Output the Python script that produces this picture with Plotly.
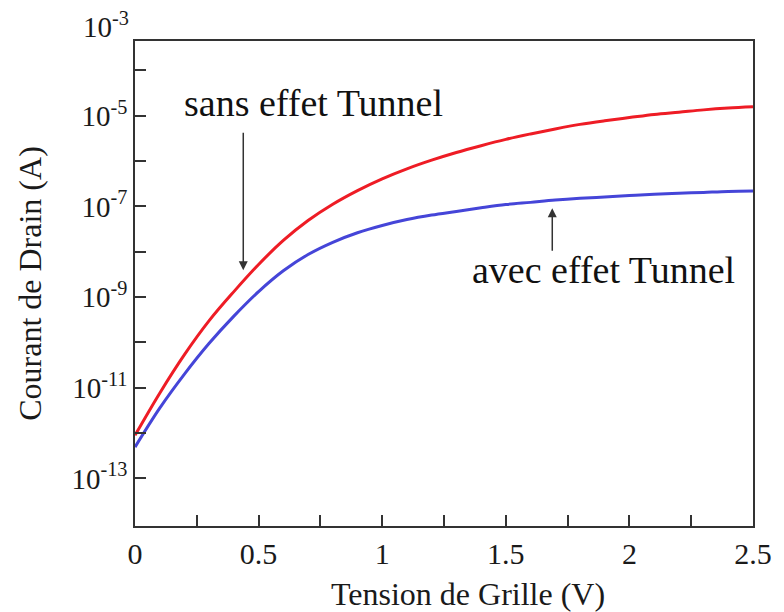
import plotly.graph_objects as go

# Gate voltage (V)
vg = [0.0, 0.1, 0.2, 0.3, 0.4, 0.5, 0.6, 0.7, 0.8, 0.9, 1.0, 1.1, 1.2, 1.3,
      1.4, 1.5, 1.6, 1.7, 1.8, 1.9, 2.0, 2.1, 2.2, 2.3, 2.4, 2.5]

# Drain current without tunnel effect (A)
id_sans = [8.91e-13, 7.59e-12, 5.37e-11, 3.02e-10, 1.32e-9, 5.25e-9, 1.78e-8,
           4.90e-8, 1.12e-7, 2.24e-7, 4.07e-7, 6.76e-7, 1.05e-6, 1.55e-6,
           2.19e-6, 3.02e-6, 3.98e-6, 5.13e-6, 6.46e-6, 7.76e-6, 9.12e-6,
           1.07e-5, 1.20e-5, 1.35e-5, 1.48e-5, 1.58e-5]

# Drain current with tunnel effect (A)
id_avec = [4.90e-13, 3.55e-12, 2.00e-11, 9.55e-11, 3.80e-10, 1.32e-9, 3.80e-9,
           8.71e-9, 1.62e-8, 2.63e-8, 3.80e-8, 5.13e-8, 6.46e-8, 7.76e-8,
           9.33e-8, 1.10e-7, 1.23e-7, 1.38e-7, 1.51e-7, 1.62e-7, 1.74e-7,
           1.86e-7, 1.95e-7, 2.04e-7, 2.14e-7, 2.19e-7]

x_tickvals = [0, 0.25, 0.5, 0.75, 1.0, 1.25, 1.5, 1.75, 2.0, 2.25, 2.5]
x_ticktext = ["0", "", "0.5", "", "1", "", "1.5", "", "2", "", "2.5"]

y_exponents = [-4, -5, -6, -7, -8, -9, -10, -11, -12, -13]
y_tickvals = [10.0 ** e for e in y_exponents]
y_ticktext = [f"10<sup>{e}</sup>" if e % 2 else "" for e in y_exponents]
y_top_label = "10<sup>-3</sup>"

x_title = "Tension de Grille (V)"
y_title = "Courant de Drain (A)"

FONT = "Liberation Serif, Times New Roman, serif"
AX = "#333333"
TXT = "#1a1a1a"
YMIN, YMAX = -14.05, -3.35

fig = go.Figure()
fig.add_trace(go.Scatter(x=vg, y=id_sans, mode="lines", name="sans effet Tunnel",
                         line=dict(color="#ee1c25", width=3, shape="spline", smoothing=1.0)))
fig.add_trace(go.Scatter(x=vg, y=id_avec, mode="lines", name="avec effet Tunnel",
                         line=dict(color="#4545d8", width=3, shape="spline", smoothing=1.0)))

fig.update_layout(
    width=784, height=612,
    margin=dict(l=135, r=27, t=41, b=86),
    paper_bgcolor="white", plot_bgcolor="white",
    showlegend=False,
    font=dict(family=FONT, color=TXT),
    xaxis=dict(
        range=[0, 2.5], tickvals=x_tickvals, ticktext=x_ticktext,
        ticks="inside", ticklen=11, tickwidth=1.5, tickcolor=AX,
        showline=True, linecolor=AX, linewidth=1.5, mirror=True,
        showgrid=False, zeroline=False,
        tickfont=dict(size=30, family=FONT, color=TXT),
    ),
    yaxis=dict(
        type="log", range=[YMIN, YMAX], tickvals=y_tickvals, ticktext=y_ticktext,
        ticks="inside", ticklen=11, tickwidth=1.5, tickcolor=AX,
        showline=True, linecolor=AX, linewidth=1.5, mirror=True,
        showgrid=False, zeroline=False,
        tickfont=dict(size=29, family=FONT, color=TXT),
        title=dict(text=y_title, font=dict(size=32, family=FONT, color=TXT), standoff=20),
    ),
)

# x-axis title (sits right of centre in the reference)
fig.add_annotation(x=0.5386, y=-0.14, xref="paper", yref="paper",
                   xanchor="center", yanchor="middle", text=x_title, showarrow=False,
                   font=dict(size=32, family=FONT, color=TXT))

ann_font = dict(size=38, family=FONT, color="#111111")
fig.add_annotation(x=0.7235, y=-4.72, xref="x", yref="y", text="sans effet Tunnel",
                   showarrow=False, font=ann_font)
fig.add_annotation(x=1.897, y=-8.41, xref="x", yref="y", text="avec effet Tunnel",
                   showarrow=False, font=ann_font)
# arrows
fig.add_annotation(x=0.438, y=-8.41, ax=0.438, ay=-5.34, xref="x", yref="y",
                   axref="x", ayref="y", text="", showarrow=True,
                   arrowhead=2, arrowsize=1.2, arrowwidth=1.5, arrowcolor=AX)
fig.add_annotation(x=1.688, y=-7.04, ax=1.688, ay=-8.01, xref="x", yref="y",
                   axref="x", ayref="y", text="", showarrow=True,
                   arrowhead=2, arrowsize=1.2, arrowwidth=1.5, arrowcolor=AX)
# top tick label (10^-3) sits above the frame
fig.add_annotation(x=0, y=(-3 - YMIN) / (YMAX - YMIN), xref="paper", yref="paper",
                   xanchor="right", yanchor="middle", xshift=-4, text=y_top_label,
                   showarrow=False, font=dict(size=29, family=FONT, color=TXT))

fig.write_html("out.html")
